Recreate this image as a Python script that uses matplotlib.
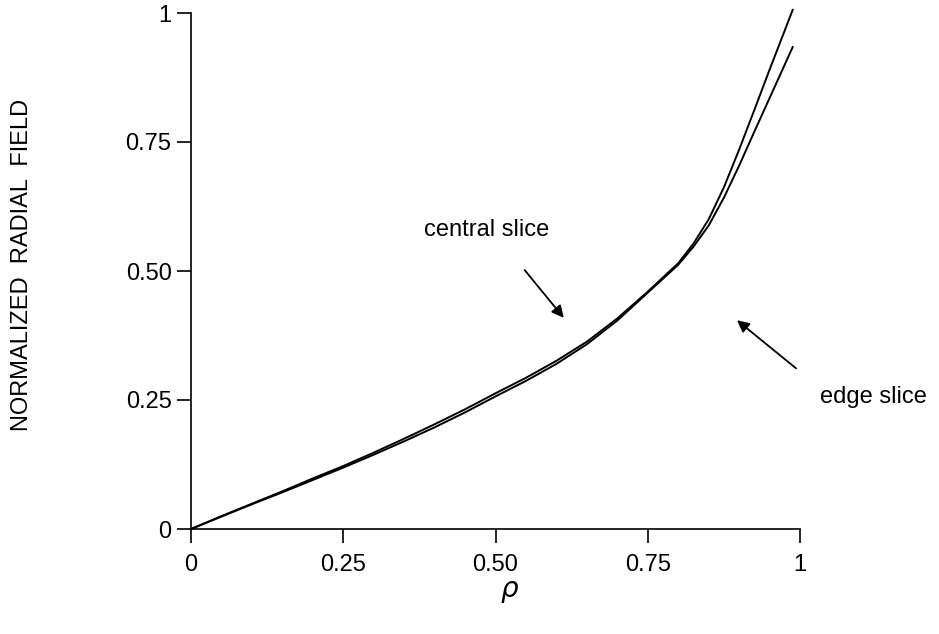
import matplotlib
matplotlib.use("Agg")
import matplotlib.pyplot as plt

plt.rcParams['font.family'] = ['Liberation Sans', 'DejaVu Sans']

rho = [0, 0.05, 0.1, 0.15, 0.2, 0.25, 0.3, 0.35, 0.4, 0.45, 0.5, 0.55,
       0.6, 0.65, 0.7, 0.75, 0.8, 0.825, 0.85, 0.875, 0.9, 0.925, 0.95, 0.988]
central = [0, 0.025, 0.049, 0.073, 0.098, 0.122, 0.148, 0.175, 0.203, 0.232,
           0.263, 0.293, 0.326, 0.363, 0.408, 0.460, 0.515, 0.553, 0.600,
           0.662, 0.735, 0.812, 0.890, 1.006]
edge = [0, 0.024, 0.048, 0.071, 0.095, 0.119, 0.144, 0.170, 0.197, 0.226,
        0.257, 0.287, 0.320, 0.358, 0.404, 0.458, 0.512, 0.547, 0.588,
        0.642, 0.704, 0.770, 0.835, 0.934]

ticks = [0, 0.25, 0.5, 0.75, 1]
xtick_labels = ['0', '0.25', '0.50', '0.75', '1']
ytick_labels = ['0', '0.25', '0.50', '0.75', '1']

fig = plt.figure(figsize=(9.39, 6.34), dpi=100)
ax = fig.add_axes([191/939, 1-529/634, (800-191)/939, (529-13)/634])

ax.plot(rho, central, color='black', lw=1.4, clip_on=False)
ax.plot(rho, edge, color='black', lw=1.4, clip_on=False)

ax.set_xlim(0, 1)
ax.set_ylim(0, 1)
ax.set_xticks(ticks)
ax.set_xticklabels(xtick_labels)
ax.set_yticks(ticks)
ax.set_yticklabels(ytick_labels)
for s in ['top', 'right']:
    ax.spines[s].set_visible(False)
for s in ['left', 'bottom']:
    ax.spines[s].set_linewidth(1.2)
ax.tick_params(axis='both', direction='out', length=10, width=1.2, labelsize=17)
ax.tick_params(axis='x', pad=8)
ax.tick_params(axis='y', pad=4)

fig.text(22/939, 1-265/634, 'NORMALIZED  RADIAL  FIELD', rotation=90,
         ha='center', va='center', fontsize=17)
fig.text(510/939, 1-592/634, r'$\rho$', ha='center', va='center', fontsize=20)

ax.annotate('', xy=(0.615, 0.405), xytext=(0.545, 0.506),
            arrowprops=dict(arrowstyle='-|>', color='black', lw=1.3, mutation_scale=18))
ax.text(0.486, 0.58, 'central slice', ha='center', va='center', fontsize=17)
ax.annotate('', xy=(0.893, 0.408), xytext=(0.997, 0.308),
            arrowprops=dict(arrowstyle='-|>', color='black', lw=1.3, mutation_scale=18),
            annotation_clip=False)
ax.text(1.033, 0.255, 'edge slice', ha='left', va='center', fontsize=17, clip_on=False)

fig.savefig('out.png', dpi=100)
